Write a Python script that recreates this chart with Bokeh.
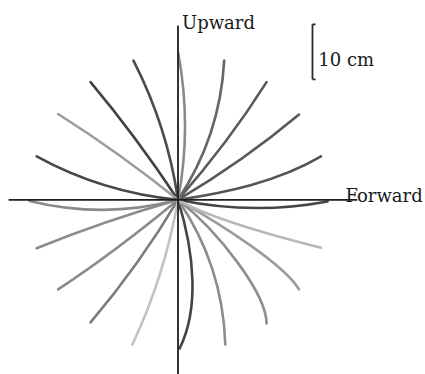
from bokeh.plotting import figure
from bokeh.models import Range1d, ColumnDataSource
from bokeh.core.properties import value
from bokeh.embed import file_html
from bokeh.resources import INLINE

# ---------------- data (cm; every path starts at the origin) ----------------
direction_deg = [0, 18, 36, 54, 72, 90, 108, 126, 144, 162,
                 180, 198, 216, 234, 252, 270, 288, 306, 324, 342]
end_x = [27.2, 26.0, 22.0, 16.1, 8.4, 0.04, -8.1, -15.9, -21.8, -25.7,
         -27.0, -25.7, -21.8, -15.9, -8.3, 0.3, 8.6, 16.1, 22.0, 26.0]
end_y = [-0.3, 7.9, 15.5, 21.4, 25.3, 26.7, 25.3, 21.4, 15.6, 7.9,
         -0.2, -8.8, -16.3, -22.3, -26.3, -27.0, -26.3, -22.5, -16.3, -8.7]
ctrl0_x = [9.1, 8.7, 7.8, 5.9, 5.1, 1.7, -1.3, -4.9, -7.0, -9.1,
           -9.0, -8.7, -7.0, -4.7, -1.6, 3.1, 5.4, 7.2, 7.9, 6.3]
ctrl0_y = [-1.9, 1.3, 4.6, 6.7, 7.7, 8.9, 8.9, 7.4, 5.6, 0.9,
           -2.4, -2.5, -5.8, -7.9, -9.1, -10.0, -7.9, -5.6, -4.5, -3.6]
ctrl1_x = [18.1, 18.2, 15.1, 11.3, 7.9, 1.7, -4.0, -10.2, -14.2, -17.7,
           -18.0, -17.3, -14.2, -10.0, -4.3, 3.8, 8.3, 16.1, 19.5, 18.0]
ctrl1_y = [-2.0, 3.3, 9.7, 13.8, 16.1, 17.8, 17.3, 14.6, 10.8, 3.5,
           -2.4, -5.4, -11.3, -15.3, -17.9, -20.0, -16.7, -17.0, -11.9, -6.7]
scale_bar_cm = 10
axis_labels = ["Upward", "Forward"]
scale_label = "10 cm"

# ---------------- styles ----------------
curve_colors = ["#454545", "#555555", "#585858", "#5a5a5a", "#666666", "#8a8a8a",
                "#4c4c4c", "#424242", "#9c9c9c", "#484848",
                "#8a8a8a", "#8c8c8c", "#8a8a8a", "#7c7c7c", "#c2c2c2", "#444444",
                "#8c8c8c", "#8e8e8e", "#9c9c9c", "#b8b8b8"]

# ---------------- layout ----------------
W, H = 425, 374
PX = 5.5               # pixels per cm
OX, OY = 177.5, 199.3  # origin position inside the canvas (px)

x_range = Range1d(-OX / PX, (W - OX) / PX)
y_range = Range1d(-(H - OY) / PX, OY / PX)

p = figure(width=W, height=H, x_range=x_range, y_range=y_range,
           output_backend="svg", toolbar_location=None, min_border=0,
           background_fill_color="white", border_fill_color="white")
p.axis.visible = False
p.grid.visible = False
p.outline_line_color = None

n = len(end_x)
src = ColumnDataSource(dict(
    x0=[0.0] * n, y0=[0.0] * n, x1=end_x, y1=end_y,
    cx0=ctrl0_x, cy0=ctrl0_y, cx1=ctrl1_x, cy1=ctrl1_y, color=curve_colors))
p.bezier(x0="x0", y0="y0", x1="x1", y1="y1", cx0="cx0", cy0="cy0",
         cx1="cx1", cy1="cy1", line_color="color", line_width=2.6,
         line_cap="round", source=src)

# axes
AX_LEFT, AX_RIGHT = -30.8, 32.6
AX_TOP, AX_BOTTOM = 31.7, -31.8
p.segment(x0=[AX_LEFT, 0], y0=[0, AX_TOP], x1=[AX_RIGHT, 0], y1=[0, AX_BOTTOM],
          line_color="#1e1e1e", line_width=1.8)

# scale bar
SB_X, SB_TOP = 24.45, 31.9
tick = 0.55
p.segment(x0=[SB_X, SB_X, SB_X], y0=[SB_TOP, SB_TOP, SB_TOP - scale_bar_cm],
          x1=[SB_X, SB_X + tick, SB_X + tick],
          y1=[SB_TOP - scale_bar_cm, SB_TOP, SB_TOP - scale_bar_cm],
          line_color="#2a2a2a", line_width=1.8)

font = value("DejaVu Serif")
p.text(x=[0.73], y=[32.2], text=[axis_labels[0]], text_font=font,
       text_font_size="18px", text_color="#1a1a1a", text_baseline="alphabetic",
       text_align="left")
p.text(x=[30.45], y=[0.7], text=[axis_labels[1]], text_font=font,
       text_font_size="18px", text_color="#1a1a1a", text_baseline="alphabetic",
       text_align="left")
p.text(x=[25.5], y=[25.6], text=[scale_label], text_font=font,
       text_font_size="18px", text_color="#1a1a1a", text_baseline="alphabetic",
       text_align="left")

open("out.html", "w").write(file_html(p, INLINE))
